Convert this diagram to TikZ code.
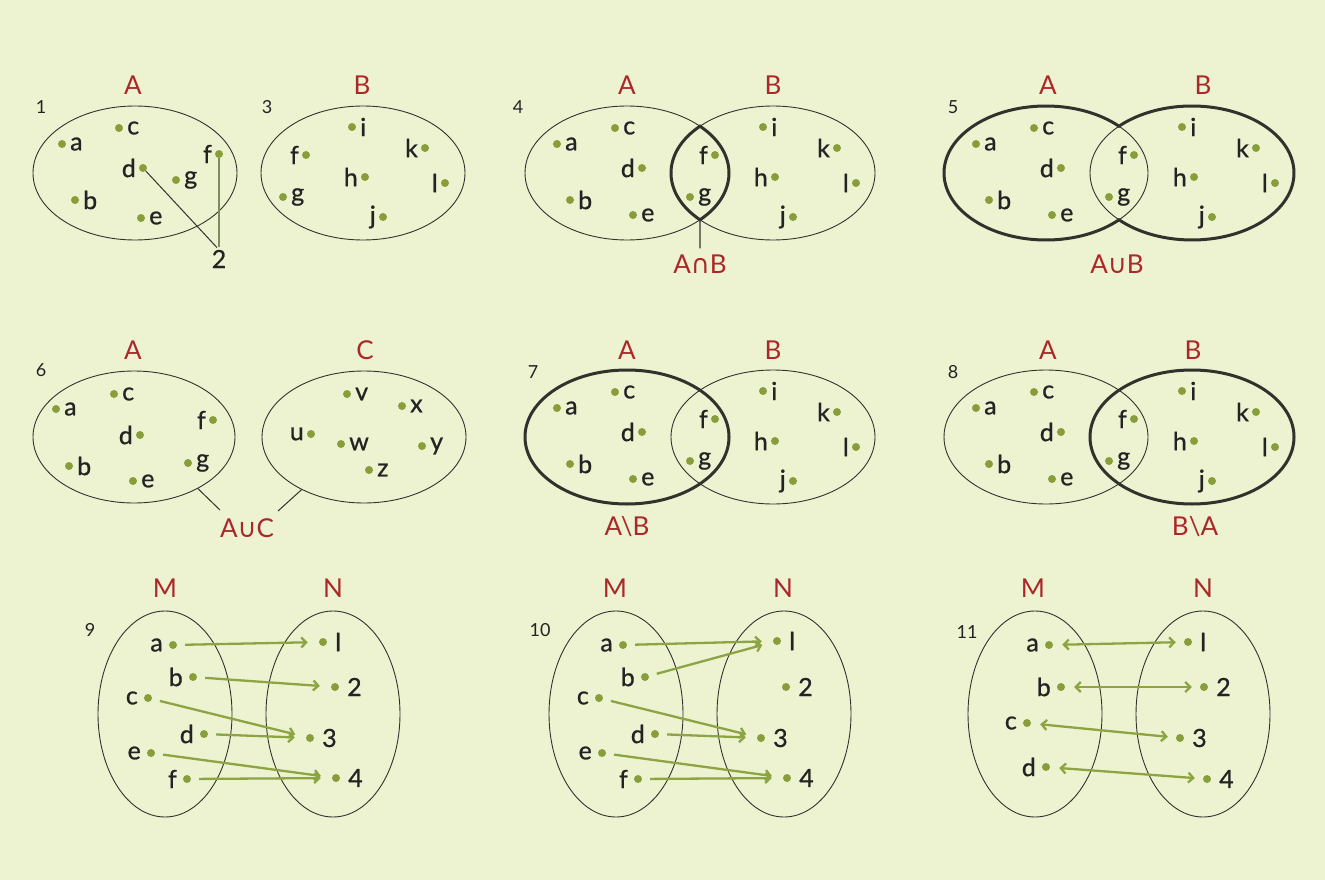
\documentclass[tikz,border=0pt]{standalone}
\usepackage{fontspec}
\setmainfont{Lato}
\newfontfamily\lblfont{Lato}[FakeBold=0.8]
\newfontfamily\symfont{DejaVu Sans}
\usetikzlibrary{arrows.meta}
\definecolor{bg}{RGB}{237,243,209}
\definecolor{setred}{RGB}{170,40,42}
\definecolor{dotgreen}{RGB}{137,158,58}
\definecolor{arrgreen}{RGB}{140,164,66}
\definecolor{ink}{RGB}{35,35,35}
\definecolor{edge}{RGB}{50,50,45}
\definecolor{pincol}{RGB}{125,140,95}
\newcommand\elR[3]{\node[dot] (#1) at (#2) {};\node[lbl,anchor=west] (#1t) at ([xshift=8pt]#1.center) {#3};}
\newcommand\elL[3]{\node[dot] (#1) at (#2) {};\node[lbl,anchor=east] (#1t) at ([xshift=-7pt]#1.center) {#3};}
\newcommand\mpR[3]{\node[dot] (#1) at (#2) {};\node[lbl,anchor=west] (#1t) at ([xshift=12pt]#1.center) {#3};}
\newcommand\mpL[3]{\node[dot] (#1) at (#2) {};\node[lbl,anchor=east] (#1t) at ([xshift=-10pt]#1.center) {#3};}
\newcommand\setAel[1]{\elR{#1a}{-70,-29}{a}\elR{#1c}{-12,-45}{c}\elL{#1d}{15,-5}{d}\elR{#1b}{-57,27}{b}\elR{#1e}{6,42}{e}\elL{#1f}{88,-18}{f}\elR{#1g}{63,24}{g}}
\newcommand\setBel[1]{\elR{#1i}{-10,-46}{i}\elL{#1k}{64,-25}{k}\elL{#1h}{2,4}{h}\elL{#1l}{83,10}{l}\elL{#1j}{20,44}{j}}
\begin{document}
\begin{tikzpicture}[x=1pt,y=-1pt,
  dot/.style={circle,fill=dotgreen,inner sep=0,minimum size=8pt},
  lbl/.style={inner sep=0,text=ink,font=\lblfont\fontsize{25}{28}\selectfont},
  setname/.style={inner sep=0,text=setred,font=\fontsize{26}{30}\selectfont},
  num/.style={inner sep=0,text=ink,font=\fontsize{18}{21}\selectfont},
  setline/.style={draw=edge,line width=0.9pt},
  boldline/.style={draw=edge,line width=3pt},
  venn/.style={x radius=102pt,y radius=67pt},
  arr/.style={draw=arrgreen,line width=2.3pt,-{Straight Barb[length=5pt,width=10pt]},shorten <=8pt,shorten >=11pt},
  darr/.style={draw=arrgreen,line width=2.3pt,{Straight Barb[length=5pt,width=10pt]}-{Straight Barb[length=5pt,width=10pt]},shorten <=9pt,shorten >=8pt}
]
\fill[bg] (0,0) rectangle (1325,880);
\useasboundingbox (0,0) rectangle (1325,880);

% ---------- 1 ----------
\node[setname] (t1A) at (133,85) {A};
\node[num] (n1) at (41,107) {1};
\draw[setline] (135,173) ellipse [venn];
\elR{1a}{62,144}{a}\elR{1c}{119,128}{c}\elL{1d}{143,168}{d}\elR{1g}{176,180}{g}
\elL{1f}{219,154}{f}\elR{1b}{75,200}{b}\elR{1e}{141,218}{e}
\node[lbl] (n2) at (219,259) {2};
\draw[edge,line width=1pt,shorten >=3pt] (1d) -- (n2.north);
\draw[pincol,line width=1.6pt,shorten >=3pt] (1f) -- (n2.north);

% ---------- 3 ----------
\node[setname] (t3B) at (362,85) {B};
\node[num] (n3) at (267,107) {3};
\draw[setline] (363,173) ellipse [venn];
\elR{3i}{352,127}{i}\elL{3f}{306,155}{f}\elL{3k}{425,148}{k}\elL{3h}{365,177}{h}
\elL{3l}{445,183}{l}\elR{3g}{283,197}{g}\elL{3j}{383,217}{j}

% ---------- 4 ----------
\coordinate (4A) at (627,173); \coordinate (4B) at (773,173);
\node[setname] (t4A) at (627,85) {A};
\node[setname] (t4B) at (773,85) {B};
\node[num] (n4) at (518,107) {4};
\draw[setline] (4A) ellipse [venn];
\draw[setline] (4B) ellipse [venn];
\draw[boldline] ([shift={(44.3:102pt and 67pt)}]4A) arc[start angle=44.3,end angle=-44.3,venn]
  arc[start angle=224.3,end angle=135.7,venn] -- cycle;
\begin{scope}[shift={(4A)}]\setAel{4}\end{scope}
\begin{scope}[shift={(4B)}]\setBel{4}\end{scope}
\coordinate (4bot) at ([shift={(-44.3:102pt and 67pt)}]4A);
\node[setname] (l4) at (700,264) {A{\symfont ∩}B};
\draw[edge,line width=1.1pt,shorten >=6pt] (4bot) -- (l4.north);

% ---------- 5 ----------
\coordinate (5A) at (1046,173); \coordinate (5B) at (1192,173);
\node[setname] (t5A) at (1048,85) {A};
\node[setname] (t5B) at (1203,85) {B};
\node[num] (n5) at (953,107) {5};
\draw[setline] (5A) ellipse [venn];
\draw[setline] (5B) ellipse [venn];
\draw[boldline] ([shift={(44.3:102pt and 67pt)}]5A) arc[start angle=44.3,end angle=315.7,venn]
  arc[start angle=224.3,end angle=495.7,venn] -- cycle;
\begin{scope}[shift={(5A)}]\setAel{5}\end{scope}
\begin{scope}[shift={(5B)}]\setBel{5}\end{scope}
\node[setname] (l5) at (1117,264) {A{\symfont ∪}B};

% ---------- 6 ----------
\coordinate (6A) at (134,437); \coordinate (6C) at (364,437);
\node[setname] (t6A) at (133,350) {A};
\node[setname] (t6C) at (365,350) {C};
\node[num] (n6) at (41,370) {6};
\draw[setline] (6A) ellipse [x radius=101pt,y radius=66pt];
\draw[setline] (6C) ellipse [x radius=102pt,y radius=66pt];
\elR{6a}{56,409}{a}\elR{6c}{114,394}{c}\elL{6f}{213,420}{f}\elL{6d}{140,435}{d}
\elR{6b}{69,466}{b}\elR{6g}{188,463}{g}\elR{6e}{133,481}{e}
\elR{6v}{347,394}{v}\elR{6x}{402,406}{x}\elL{6u}{311,434}{u}\elR{6w}{341,444}{w}
\elR{6y}{422,446}{y}\elR{6z}{369,470}{z}
\node[setname] (l6) at (247,528) {A{\symfont ∪}C};
\coordinate (6s1) at ([shift={(-51:101pt and 66pt)}]6A);
\coordinate (6e1) at (220,510);
\coordinate (6s2) at ([shift={(232.5:102pt and 66pt)}]6C);
\coordinate (6e2) at (278,511);
\draw[edge,line width=1pt] (6s1) -- (6e1);
\draw[edge,line width=1pt] (6s2) -- (6e2);

% ---------- 7 ----------
\coordinate (7A) at (627,437); \coordinate (7B) at (773,437);
\node[setname] (t7A) at (627,350) {A};
\node[setname] (t7B) at (773,350) {B};
\node[num] (n7) at (533,372) {7};
\draw[setline] (7B) ellipse [venn];
\draw[boldline] (7A) ellipse [venn];
\begin{scope}[shift={(7A)}]\setAel{7}\end{scope}
\begin{scope}[shift={(7B)}]\setBel{7}\end{scope}
\node[setname] (l7) at (627,527) {A\textbackslash B};

% ---------- 8 ----------
\coordinate (8A) at (1046,437); \coordinate (8B) at (1192,437);
\node[setname] (t8A) at (1048,350) {A};
\node[setname] (t8B) at (1193,350) {B};
\node[num] (n8) at (953,372) {8};
\draw[setline] (8A) ellipse [venn];
\draw[boldline] (8B) ellipse [venn];
\begin{scope}[shift={(8A)}]\setAel{8}\end{scope}
\begin{scope}[shift={(8B)}]\setBel{8}\end{scope}
\node[setname] (l8) at (1195,527) {B\textbackslash A};

% ---------- 9 ----------
\node[setname] (t9M) at (165,588) {M};
\node[setname] (t9N) at (333,588) {N};
\node[num] (n9) at (90,630) {9};
\draw[setline] (165,714) ellipse [x radius=67pt,y radius=103pt];
\draw[setline] (333,714) ellipse [x radius=67pt,y radius=103pt];
\mpL{9a}{173,645}{a}\mpL{9b}{193,677}{b}\mpL{9c}{148,698}{c}
\mpL{9d}{204,734}{d}\mpL{9e}{151,753}{e}\mpL{9f}{187,779}{f}
\mpR{91}{323,642}{l}\mpR{92}{335,687}{2}\mpR{93}{310,738}{3}\mpR{94}{336,778}{4}
\draw[arr] (9a) -- (91);
\draw[arr] (9b) -- (92);
\draw[arr] (9c) -- (93);
\draw[arr] (9d) -- (93);
\draw[arr] (9e) -- (94);
\draw[arr] (9f) -- (94);

% ---------- 10 ----------
\node[setname] (t10M) at (615,588) {M};
\node[setname] (t10N) at (783,588) {N};
\node[num] (n10) at (540,630) {10};
\draw[setline] (616,714) ellipse [x radius=67pt,y radius=103pt];
\draw[setline] (784,714) ellipse [x radius=67pt,y radius=103pt];
\mpL{10a}{623,645}{a}\mpL{10b}{645,677}{b}\mpL{10c}{599,698}{c}
\mpL{10d}{655,734}{d}\mpL{10e}{602,753}{e}\mpL{10f}{638,779}{f}
\mpR{101}{777,641}{l}\mpR{102}{786,687}{2}\mpR{103}{761,738}{3}\mpR{104}{787,778}{4}
\draw[arr] (10a) -- (101);
\draw[arr] (10b) -- (101);
\draw[arr] (10c) -- (103);
\draw[arr] (10d) -- (103);
\draw[arr] (10e) -- (104);
\draw[arr] (10f) -- (104);

% ---------- 11 ----------
\node[setname] (t11M) at (1033,588) {M};
\node[setname] (t11N) at (1203,588) {N};
\node[num] (n11) at (967,632) {11};
\draw[setline] (1035,714) ellipse [x radius=67pt,y radius=103pt];
\draw[setline] (1203,714) ellipse [x radius=67pt,y radius=103pt];
\mpL{11a}{1049,645}{a}\mpL{11b}{1061,687}{b}\mpL{11c}{1027,723}{c}\mpL{11d}{1046,767}{d}
\mpR{111}{1188,642}{l}\mpR{112}{1204,687}{2}\mpR{113}{1180,738}{3}\mpR{114}{1207,779}{4}
\draw[darr] (11a) -- (111);
\draw[darr] (11b) -- (112);
\draw[darr] (11c) -- (113);
\draw[darr] (11d) -- (114);
\end{tikzpicture}
\end{document}
